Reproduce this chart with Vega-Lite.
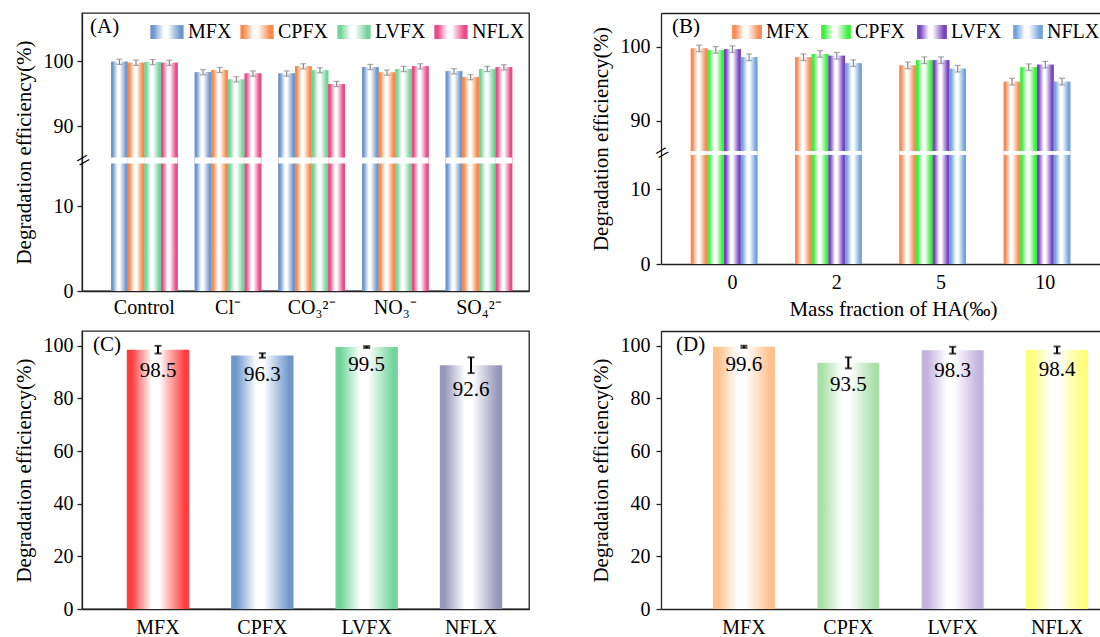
{
 "$schema": "https://vega.github.io/schema/vega-lite/v6.json",
 "background": "#ffffff",
 "padding": {"left": 12, "top": 12, "right": 0, "bottom": 0},
 "config": {
  "font": "Liberation Serif",
  "view": {"stroke": "#222222", "strokeWidth": 1.3},
  "axis": {"labelFont": "Liberation Serif", "labelFontSize": 20, "labelColor": "#000000", "titleFont": "Liberation Serif", "titleFontSize": 21, "titleFontWeight": "normal", "titleColor": "#000000", "domainColor": "#222222", "domainWidth": 1.3, "tickColor": "#222222", "tickWidth": 1.3, "grid": false, "zindex": 1},
  "legend": {"labelFont": "Liberation Serif", "labelFontSize": 20, "labelColor": "#000000", "padding": 0},
  "title": {"font": "Liberation Serif", "fontSize": 21, "fontWeight": "normal", "color": "#000000", "anchor": "start", "frame": "group"}
 },
 "params": [
  {"name": "gA", "value": {
   "MFX": {"id":"gA_MFX","gradient":"linear","x1":0,"y1":0,"x2":1,"y2":0,"stops":[{"offset":0,"color":"#6f97cc"},{"offset":0.1,"color":"#6f97cc"},{"offset":0.4,"color":"#ffffff"},{"offset":0.52,"color":"#ffffff"},{"offset":0.9,"color":"#6f97cc"},{"offset":1,"color":"#6f97cc"}]},
   "CPFX": {"id":"gA_CPFX","gradient":"linear","x1":0,"y1":0,"x2":1,"y2":0,"stops":[{"offset":0,"color":"#f7894a"},{"offset":0.1,"color":"#f7894a"},{"offset":0.4,"color":"#ffffff"},{"offset":0.52,"color":"#ffffff"},{"offset":0.9,"color":"#f7894a"},{"offset":1,"color":"#f7894a"}]},
   "LVFX": {"id":"gA_LVFX","gradient":"linear","x1":0,"y1":0,"x2":1,"y2":0,"stops":[{"offset":0,"color":"#73d39b"},{"offset":0.1,"color":"#73d39b"},{"offset":0.4,"color":"#ffffff"},{"offset":0.52,"color":"#ffffff"},{"offset":0.9,"color":"#73d39b"},{"offset":1,"color":"#73d39b"}]},
   "NFLX": {"id":"gA_NFLX","gradient":"linear","x1":0,"y1":0,"x2":1,"y2":0,"stops":[{"offset":0,"color":"#ea4a86"},{"offset":0.1,"color":"#ea4a86"},{"offset":0.4,"color":"#ffffff"},{"offset":0.52,"color":"#ffffff"},{"offset":0.9,"color":"#ea4a86"},{"offset":1,"color":"#ea4a86"}]}
  }},
  {"name": "gB", "value": {
   "MFX": {"id":"gB_MFX","gradient":"linear","x1":0,"y1":0,"x2":1,"y2":0,"stops":[{"offset":0,"color":"#f68b55"},{"offset":0.1,"color":"#f68b55"},{"offset":0.4,"color":"#ffffff"},{"offset":0.52,"color":"#ffffff"},{"offset":0.9,"color":"#f68b55"},{"offset":1,"color":"#f68b55"}]},
   "CPFX": {"id":"gB_CPFX","gradient":"linear","x1":0,"y1":0,"x2":1,"y2":0,"stops":[{"offset":0,"color":"#3fee3f"},{"offset":0.1,"color":"#3fee3f"},{"offset":0.4,"color":"#ffffff"},{"offset":0.52,"color":"#ffffff"},{"offset":0.9,"color":"#3fee3f"},{"offset":1,"color":"#3fee3f"}]},
   "LVFX": {"id":"gB_LVFX","gradient":"linear","x1":0,"y1":0,"x2":1,"y2":0,"stops":[{"offset":0,"color":"#7643c2"},{"offset":0.1,"color":"#7643c2"},{"offset":0.4,"color":"#ffffff"},{"offset":0.52,"color":"#ffffff"},{"offset":0.9,"color":"#7643c2"},{"offset":1,"color":"#7643c2"}]},
   "NFLX": {"id":"gB_NFLX","gradient":"linear","x1":0,"y1":0,"x2":1,"y2":0,"stops":[{"offset":0,"color":"#72a4dc"},{"offset":0.1,"color":"#72a4dc"},{"offset":0.4,"color":"#ffffff"},{"offset":0.52,"color":"#ffffff"},{"offset":0.9,"color":"#72a4dc"},{"offset":1,"color":"#72a4dc"}]}
  }},
  {"name": "gC", "value": {
   "MFX": {"id":"gC_MFX","gradient":"linear","x1":0,"y1":0,"x2":1,"y2":0,"stops":[{"offset":0,"color":"#ff3d3d"},{"offset":0.08,"color":"#ff3d3d"},{"offset":0.4,"color":"#ffffff"},{"offset":0.52,"color":"#ffffff"},{"offset":0.93,"color":"#ff3d3d"},{"offset":1,"color":"#ff3d3d"}]},
   "CPFX": {"id":"gC_CPFX","gradient":"linear","x1":0,"y1":0,"x2":1,"y2":0,"stops":[{"offset":0,"color":"#6f97cc"},{"offset":0.08,"color":"#6f97cc"},{"offset":0.4,"color":"#ffffff"},{"offset":0.52,"color":"#ffffff"},{"offset":0.93,"color":"#6f97cc"},{"offset":1,"color":"#6f97cc"}]},
   "LVFX": {"id":"gC_LVFX","gradient":"linear","x1":0,"y1":0,"x2":1,"y2":0,"stops":[{"offset":0,"color":"#6fd59a"},{"offset":0.08,"color":"#6fd59a"},{"offset":0.4,"color":"#ffffff"},{"offset":0.52,"color":"#ffffff"},{"offset":0.93,"color":"#6fd59a"},{"offset":1,"color":"#6fd59a"}]},
   "NFLX": {"id":"gC_NFLX","gradient":"linear","x1":0,"y1":0,"x2":1,"y2":0,"stops":[{"offset":0,"color":"#9797ba"},{"offset":0.08,"color":"#9797ba"},{"offset":0.4,"color":"#ffffff"},{"offset":0.52,"color":"#ffffff"},{"offset":0.93,"color":"#9797ba"},{"offset":1,"color":"#9797ba"}]}
  }},
  {"name": "gD", "value": {
   "MFX": {"id":"gD_MFX","gradient":"linear","x1":0,"y1":0,"x2":1,"y2":0,"stops":[{"offset":0,"color":"#ffc08c"},{"offset":0.08,"color":"#ffc08c"},{"offset":0.4,"color":"#ffffff"},{"offset":0.52,"color":"#ffffff"},{"offset":0.93,"color":"#ffc08c"},{"offset":1,"color":"#ffc08c"}]},
   "CPFX": {"id":"gD_CPFX","gradient":"linear","x1":0,"y1":0,"x2":1,"y2":0,"stops":[{"offset":0,"color":"#a8e0a8"},{"offset":0.08,"color":"#a8e0a8"},{"offset":0.4,"color":"#ffffff"},{"offset":0.52,"color":"#ffffff"},{"offset":0.93,"color":"#a8e0a8"},{"offset":1,"color":"#a8e0a8"}]},
   "LVFX": {"id":"gD_LVFX","gradient":"linear","x1":0,"y1":0,"x2":1,"y2":0,"stops":[{"offset":0,"color":"#c2b0de"},{"offset":0.08,"color":"#c2b0de"},{"offset":0.4,"color":"#ffffff"},{"offset":0.52,"color":"#ffffff"},{"offset":0.93,"color":"#c2b0de"},{"offset":1,"color":"#c2b0de"}]},
   "NFLX": {"id":"gD_NFLX","gradient":"linear","x1":0,"y1":0,"x2":1,"y2":0,"stops":[{"offset":0,"color":"#ffff78"},{"offset":0.08,"color":"#ffff78"},{"offset":0.4,"color":"#ffffff"},{"offset":0.52,"color":"#ffffff"},{"offset":0.93,"color":"#ffff78"},{"offset":1,"color":"#ffff78"}]}
  }}
 ],
 "datasets": {
  "A": [
   {"g": "Control", "s": "MFX", "v": 99.9, "lo": 99.5, "hi": 100.3},
   {"g": "Control", "s": "CPFX", "v": 99.75, "lo": 99.35, "hi": 100.15},
   {"g": "Control", "s": "LVFX", "v": 99.85, "lo": 99.45, "hi": 100.25},
   {"g": "Control", "s": "NFLX", "v": 99.75, "lo": 99.35, "hi": 100.15},
   {"g": "Cl⁻", "s": "MFX", "v": 98.3, "lo": 97.9, "hi": 98.7},
   {"g": "Cl⁻", "s": "CPFX", "v": 98.65, "lo": 98.25, "hi": 99.05},
   {"g": "Cl⁻", "s": "LVFX", "v": 97.2, "lo": 96.8, "hi": 97.6},
   {"g": "Cl⁻", "s": "NFLX", "v": 98.1, "lo": 97.7, "hi": 98.5},
   {"g": "CO₃²⁻", "s": "MFX", "v": 98.1, "lo": 97.7, "hi": 98.5},
   {"g": "CO₃²⁻", "s": "CPFX", "v": 99.2, "lo": 98.8, "hi": 99.6},
   {"g": "CO₃²⁻", "s": "LVFX", "v": 98.6, "lo": 98.2, "hi": 99.0},
   {"g": "CO₃²⁻", "s": "NFLX", "v": 96.5, "lo": 96.1, "hi": 96.9},
   {"g": "NO₃⁻", "s": "MFX", "v": 99.1, "lo": 98.7, "hi": 99.5},
   {"g": "NO₃⁻", "s": "CPFX", "v": 98.25, "lo": 97.85, "hi": 98.65},
   {"g": "NO₃⁻", "s": "LVFX", "v": 98.8, "lo": 98.4, "hi": 99.2},
   {"g": "NO₃⁻", "s": "NFLX", "v": 99.2, "lo": 98.8, "hi": 99.6},
   {"g": "SO₄²⁻", "s": "MFX", "v": 98.45, "lo": 98.05, "hi": 98.85},
   {"g": "SO₄²⁻", "s": "CPFX", "v": 97.55, "lo": 97.15, "hi": 97.95},
   {"g": "SO₄²⁻", "s": "LVFX", "v": 98.8, "lo": 98.4, "hi": 99.2},
   {"g": "SO₄²⁻", "s": "NFLX", "v": 99.05, "lo": 98.65, "hi": 99.45}
  ],
  "B": [
   {"g": "0", "s": "MFX", "v": 99.8, "lo": 99.35, "hi": 100.25},
   {"g": "0", "s": "CPFX", "v": 99.6, "lo": 99.15, "hi": 100.05},
   {"g": "0", "s": "LVFX", "v": 99.7, "lo": 99.25, "hi": 100.15},
   {"g": "0", "s": "NFLX", "v": 98.6, "lo": 98.15, "hi": 99.05},
   {"g": "2", "s": "MFX", "v": 98.6, "lo": 98.15, "hi": 99.05},
   {"g": "2", "s": "CPFX", "v": 99.05, "lo": 98.6, "hi": 99.5},
   {"g": "2", "s": "LVFX", "v": 98.8, "lo": 98.35, "hi": 99.25},
   {"g": "2", "s": "NFLX", "v": 97.8, "lo": 97.35, "hi": 98.25},
   {"g": "5", "s": "MFX", "v": 97.5, "lo": 97.05, "hi": 97.95},
   {"g": "5", "s": "CPFX", "v": 98.2, "lo": 97.75, "hi": 98.65},
   {"g": "5", "s": "LVFX", "v": 98.2, "lo": 97.75, "hi": 98.65},
   {"g": "5", "s": "NFLX", "v": 97.05, "lo": 96.6, "hi": 97.5},
   {"g": "10", "s": "MFX", "v": 95.3, "lo": 94.85, "hi": 95.75},
   {"g": "10", "s": "CPFX", "v": 97.25, "lo": 96.8, "hi": 97.7},
   {"g": "10", "s": "LVFX", "v": 97.6, "lo": 97.15, "hi": 98.05},
   {"g": "10", "s": "NFLX", "v": 95.3, "lo": 94.85, "hi": 95.75}
  ],
  "C": [
   {"s": "MFX", "v": 98.5, "lo": 97.05, "hi": 99.95},
   {"s": "CPFX", "v": 96.3, "lo": 95.45, "hi": 97.15},
   {"s": "LVFX", "v": 99.5, "lo": 99.15, "hi": 99.85},
   {"s": "NFLX", "v": 92.6, "lo": 89.6, "hi": 95.6}
  ],
  "D": [
   {"s": "MFX", "v": 99.6, "lo": 99.2, "hi": 100.0},
   {"s": "CPFX", "v": 93.5, "lo": 91.4, "hi": 95.6},
   {"s": "LVFX", "v": 98.3, "lo": 97.0, "hi": 99.6},
   {"s": "NFLX", "v": 98.4, "lo": 97.1, "hi": 99.7}
  ]
 },
 "spacing": 11,
 "resolve": {"scale": {"color": "independent"}, "legend": {"color": "independent"}},
 "vconcat": [
  {
   "spacing": 60,
   "resolve": {"scale": {"color": "independent"}, "legend": {"color": "independent"}},
   "hconcat": [
    {
     "width": 447, "height": 278,
     "data": {"name": "A"},
     "title": {"text": "(A)", "offset": -22, "dx": 8, "dy": 19, "baseline": "alphabetic"},
     "resolve": {"axis": {"y": "independent"}},
     "encoding": {
      "x": {"field": "g", "type": "nominal", "sort": ["Control", "Cl⁻", "CO₃²⁻", "NO₃⁻", "SO₄²⁻"], "scale": {"paddingInner": 0.204, "paddingOuter": 0.274, "align": 0.634}, "axis": {"title": null, "labelAngle": 0, "ticks": false, "labelPadding": 6}},
      "xOffset": {"field": "s", "type": "nominal", "sort": ["MFX", "CPFX", "LVFX", "NFLX"], "scale": {"paddingInner": 0, "paddingOuter": 0}}
     },
     "layer": [
      {
       "mark": {"type": "bar", "strokeWidth": 0},
       "encoding": {
        "y": {"field": "v", "type": "quantitative", "scale": {"domain": [0, 15, 85.2, 107.4], "range": [278, 150.5, 144.5, 0], "nice": false, "zero": false},
         "axis": {"title": "Degradation efficiency(%)", "values": [0, 10, 90, 100], "tickSize": 5, "labelPadding": 4, "titlePadding": 9, "labelOverlap": false, "labelFlush": false}},
        "color": {"field": "s", "type": "nominal", "sort": ["MFX", "CPFX", "LVFX", "NFLX"], "scale": {"domain": ["MFX", "CPFX", "LVFX", "NFLX"], "range": ["url(#gA_MFX)", "url(#gA_CPFX)", "url(#gA_LVFX)", "url(#gA_NFLX)"]},
         "legend": {"title": null, "orient": "none", "legendX": 68, "legendY": 2, "direction": "horizontal", "symbolType": "M-1,-0.42H1V0.42H-1Z", "symbolSize": 1109, "symbolStrokeWidth": 0, "symbolOpacity": 1, "labelOffset": 4, "columnPadding": 8}}
       }
      },
      {
       "mark": {"type": "bar"},
       "encoding": {
        "y": {"field": "v", "type": "quantitative", "scale": {"domain": [0, 15, 85.2, 107.4], "range": [278, 150.5, 144.5, 0], "nice": false, "zero": false}, "axis": null},
        "fill": {"value": {"expr": "gA[datum.s]"}}
       }
      },
      {
       "mark": {"type": "bar", "color": "#ffffff"},
       "encoding": {
        "y": {"datum": 15, "type": "quantitative", "scale": {"domain": [0, 15, 85.2, 107.4], "range": [278, 150.5, 144.5, 0], "nice": false, "zero": false},
         "axis": {"orient": "left", "values": [50], "labelExpr": "'='", "labelAngle": -30, "labelFontSize": 24, "labelAlign": "center", "labelBaseline": "middle", "ticks": false, "domain": false, "title": null, "labelPadding": -1, "labelOverlap": false, "labelFlush": false, "zindex": 2}},
        "y2": {"datum": 85.2}
       }
      },
      {
       "mark": {"type": "rule", "color": "#888888", "strokeWidth": 1.2},
       "encoding": {
        "y": {"field": "lo", "type": "quantitative", "scale": {"domain": [0, 15, 85.2, 107.4], "range": [278, 150.5, 144.5, 0], "nice": false, "zero": false}, "axis": null},
        "y2": {"field": "hi"}
       }
      },
      {
       "mark": {"type": "tick", "color": "#888888", "thickness": 1.2, "size": 6},
       "encoding": {"y": {"field": "lo", "type": "quantitative", "scale": {"domain": [0, 15, 85.2, 107.4], "range": [278, 150.5, 144.5, 0], "nice": false, "zero": false}, "axis": null}}
      },
      {
       "mark": {"type": "tick", "color": "#888888", "thickness": 1.2, "size": 6},
       "encoding": {"y": {"field": "hi", "type": "quantitative", "scale": {"domain": [0, 15, 85.2, 107.4], "range": [278, 150.5, 144.5, 0], "nice": false, "zero": false}, "axis": null}}
      }
     ]
    },
    {
     "width": 439, "height": 251,
     "view": {"stroke": null},
     "data": {"name": "B"},
     "title": {"text": "(B)", "offset": -22, "dx": 11, "dy": 19, "baseline": "alphabetic"},
     "resolve": {"axis": {"x": "independent", "y": "independent"}},
     "layer": [
      {
       "mark": {"type": "bar", "strokeWidth": 0},
       "encoding": {
        "x": {"field": "g", "type": "nominal", "sort": ["0", "2", "5", "10"], "scale": {"paddingInner": 0.203, "paddingOuter": 0.206, "align": 0.694}, "axis": {"title": "Mass fraction of HA(‰)", "titleX": 232, "labelAngle": 0, "ticks": false, "labelPadding": 8, "titlePadding": 6}},
        "xOffset": {"field": "s", "type": "nominal", "sort": ["MFX", "CPFX", "LVFX", "NFLX"], "scale": {"paddingInner": 0, "paddingOuter": 0}},
        "y": {"field": "v", "type": "quantitative", "scale": {"domain": [0, 14.6, 85.9, 104.6], "range": [251, 141.9, 138, 0], "nice": false, "zero": false},
         "axis": {"title": "Degradation efficiency(%)", "values": [0, 10, 90, 100], "tickSize": 5, "labelPadding": 6, "titlePadding": 9, "labelOverlap": false, "labelFlush": false}},
        "color": {"field": "s", "type": "nominal", "sort": ["MFX", "CPFX", "LVFX", "NFLX"], "scale": {"domain": ["MFX", "CPFX", "LVFX", "NFLX"], "range": ["url(#gB_MFX)", "url(#gB_CPFX)", "url(#gB_LVFX)", "url(#gB_NFLX)"]},
         "legend": {"title": null, "orient": "none", "legendX": 71, "legendY": 4, "direction": "horizontal", "symbolType": "M-1,-0.47H1V0.47H-1Z", "symbolSize": 888, "symbolStrokeWidth": 0, "symbolOpacity": 1, "labelOffset": 4, "columnPadding": 11}}
       }
      },
      {
       "mark": {"type": "bar"},
       "encoding": {
        "x": {"field": "g", "type": "nominal", "sort": ["0", "2", "5", "10"], "scale": {"paddingInner": 0.203, "paddingOuter": 0.206, "align": 0.694}, "axis": {"orient": "top", "labels": false, "ticks": false, "title": null, "domain": true}},
        "xOffset": {"field": "s", "type": "nominal", "sort": ["MFX", "CPFX", "LVFX", "NFLX"], "scale": {"paddingInner": 0, "paddingOuter": 0}},
        "y": {"field": "v", "type": "quantitative", "scale": {"domain": [0, 14.6, 85.9, 104.6], "range": [251, 141.9, 138, 0], "nice": false, "zero": false}, "axis": null},
        "fill": {"value": {"expr": "gB[datum.s]"}}
       }
      },
      {
       "mark": {"type": "bar", "color": "#ffffff"},
       "encoding": {
        "x": {"field": "g", "type": "nominal", "sort": ["0", "2", "5", "10"], "scale": {"paddingInner": 0.203, "paddingOuter": 0.206, "align": 0.694}, "axis": null},
        "xOffset": {"field": "s", "type": "nominal", "sort": ["MFX", "CPFX", "LVFX", "NFLX"], "scale": {"paddingInner": 0, "paddingOuter": 0}},
        "y": {"datum": 14.6, "type": "quantitative", "scale": {"domain": [0, 14.6, 85.9, 104.6], "range": [251, 141.9, 138, 0], "nice": false, "zero": false},
         "axis": {"orient": "left", "values": [50], "labelExpr": "'='", "labelAngle": -30, "labelFontSize": 24, "labelAlign": "center", "labelBaseline": "middle", "ticks": false, "domain": false, "title": null, "labelPadding": -1, "labelOverlap": false, "labelFlush": false, "zindex": 2}},
        "y2": {"datum": 85.9}
       }
      },
      {
       "mark": {"type": "rule", "color": "#888888", "strokeWidth": 1.2},
       "encoding": {
        "x": {"field": "g", "type": "nominal", "sort": ["0", "2", "5", "10"], "scale": {"paddingInner": 0.203, "paddingOuter": 0.206, "align": 0.694}, "axis": null},
        "xOffset": {"field": "s", "type": "nominal", "sort": ["MFX", "CPFX", "LVFX", "NFLX"], "scale": {"paddingInner": 0, "paddingOuter": 0}},
        "y": {"field": "lo", "type": "quantitative", "scale": {"domain": [0, 14.6, 85.9, 104.6], "range": [251, 141.9, 138, 0], "nice": false, "zero": false}, "axis": null},
        "y2": {"field": "hi"}
       }
      },
      {
       "mark": {"type": "tick", "color": "#888888", "thickness": 1.2, "size": 6},
       "encoding": {
        "x": {"field": "g", "type": "nominal", "sort": ["0", "2", "5", "10"], "scale": {"paddingInner": 0.203, "paddingOuter": 0.206, "align": 0.694}, "axis": null},
        "xOffset": {"field": "s", "type": "nominal", "sort": ["MFX", "CPFX", "LVFX", "NFLX"], "scale": {"paddingInner": 0, "paddingOuter": 0}},
        "y": {"field": "lo", "type": "quantitative", "scale": {"domain": [0, 14.6, 85.9, 104.6], "range": [251, 141.9, 138, 0], "nice": false, "zero": false}, "axis": null}
       }
      },
      {
       "mark": {"type": "tick", "color": "#888888", "thickness": 1.2, "size": 6},
       "encoding": {
        "x": {"field": "g", "type": "nominal", "sort": ["0", "2", "5", "10"], "scale": {"paddingInner": 0.203, "paddingOuter": 0.206, "align": 0.694}, "axis": null},
        "xOffset": {"field": "s", "type": "nominal", "sort": ["MFX", "CPFX", "LVFX", "NFLX"], "scale": {"paddingInner": 0, "paddingOuter": 0}},
        "y": {"field": "hi", "type": "quantitative", "scale": {"domain": [0, 14.6, 85.9, 104.6], "range": [251, 141.9, 138, 0], "nice": false, "zero": false}, "axis": null}
       }
      }
     ]
    }
   ]
  },
  {
   "spacing": 60,
   "hconcat": [
    {
     "width": 447, "height": 278,
     "data": {"name": "C"},
     "title": {"text": "(C)", "offset": -22, "dx": 11, "dy": 19, "baseline": "alphabetic"},
     "resolve": {"axis": {"y": "independent"}},
     "encoding": {
      "x": {"field": "s", "type": "nominal", "sort": ["MFX", "CPFX", "LVFX", "NFLX"], "scale": {"paddingInner": 0.402, "paddingOuter": 0.343, "align": 0.626}, "axis": {"title": null, "labelAngle": 0, "ticks": false, "labelPadding": 8}}
     },
     "layer": [
      {
       "mark": {"type": "bar"},
       "encoding": {
        "y": {"field": "v", "type": "quantitative", "scale": {"domain": [0, 105.6], "nice": false, "zero": true},
         "axis": {"title": "Degradation efficiency(%)", "values": [0, 20, 40, 60, 80, 100], "tickSize": 5, "labelPadding": 4, "titlePadding": 9, "labelFlush": false}},
        "fill": {"value": {"expr": "gC[datum.s]"}}
       }
      },
      {
       "mark": {"type": "rule", "color": "#000000", "strokeWidth": 2},
       "encoding": {"y": {"field": "lo", "type": "quantitative", "scale": {"domain": [0, 105.6], "nice": false, "zero": true}, "axis": null}, "y2": {"field": "hi"}}
      },
      {
       "mark": {"type": "tick", "color": "#000000", "thickness": 2, "size": 7},
       "encoding": {"y": {"field": "lo", "type": "quantitative", "scale": {"domain": [0, 105.6], "nice": false, "zero": true}, "axis": null}}
      },
      {
       "mark": {"type": "tick", "color": "#000000", "thickness": 2, "size": 7},
       "encoding": {"y": {"field": "hi", "type": "quantitative", "scale": {"domain": [0, 105.6], "nice": false, "zero": true}, "axis": null}}
      },
      {
       "mark": {"type": "text", "baseline": "alphabetic", "dy": 23, "fontSize": 21, "font": "Liberation Serif", "color": "#000000"},
       "encoding": {
        "y": {"field": "lo", "type": "quantitative", "scale": {"domain": [0, 105.6], "nice": false, "zero": true}, "axis": null},
        "text": {"field": "v", "type": "quantitative", "format": ".1f"}
       }
      }
     ]
    },
    {
     "width": 439, "height": 278,
     "view": {"stroke": null},
     "data": {"name": "D"},
     "title": {"text": "(D)", "offset": -22, "dx": 15, "dy": 19, "baseline": "alphabetic"},
     "resolve": {"axis": {"x": "independent", "y": "independent"}},
     "layer": [
      {
       "mark": {"type": "bar"},
       "encoding": {
        "x": {"field": "s", "type": "nominal", "sort": ["MFX", "CPFX", "LVFX", "NFLX"], "scale": {"paddingInner": 0.406, "paddingOuter": 0.306, "align": 0.813}, "axis": {"title": null, "labelAngle": 0, "ticks": false, "labelPadding": 8}},
        "y": {"field": "v", "type": "quantitative", "scale": {"domain": [0, 105.6], "nice": false, "zero": true},
         "axis": {"title": "Degradation efficiency(%)", "values": [0, 20, 40, 60, 80, 100], "tickSize": 5, "labelPadding": 6, "titlePadding": 9, "labelFlush": false}},
        "fill": {"value": {"expr": "gD[datum.s]"}}
       }
      },
      {
       "mark": {"type": "rule", "color": "#000000", "strokeWidth": 2},
       "encoding": {
        "x": {"field": "s", "type": "nominal", "sort": ["MFX", "CPFX", "LVFX", "NFLX"], "scale": {"paddingInner": 0.406, "paddingOuter": 0.306, "align": 0.813}, "axis": {"orient": "top", "labels": false, "ticks": false, "title": null, "domain": true}},
        "y": {"field": "lo", "type": "quantitative", "scale": {"domain": [0, 105.6], "nice": false, "zero": true}, "axis": null}, "y2": {"field": "hi"}}
      },
      {
       "mark": {"type": "tick", "color": "#000000", "thickness": 2, "size": 7},
       "encoding": {
        "x": {"field": "s", "type": "nominal", "sort": ["MFX", "CPFX", "LVFX", "NFLX"], "scale": {"paddingInner": 0.406, "paddingOuter": 0.306, "align": 0.813}, "axis": null},
        "y": {"field": "lo", "type": "quantitative", "scale": {"domain": [0, 105.6], "nice": false, "zero": true}, "axis": null}}
      },
      {
       "mark": {"type": "tick", "color": "#000000", "thickness": 2, "size": 7},
       "encoding": {
        "x": {"field": "s", "type": "nominal", "sort": ["MFX", "CPFX", "LVFX", "NFLX"], "scale": {"paddingInner": 0.406, "paddingOuter": 0.306, "align": 0.813}, "axis": null},
        "y": {"field": "hi", "type": "quantitative", "scale": {"domain": [0, 105.6], "nice": false, "zero": true}, "axis": null}}
      },
      {
       "mark": {"type": "text", "baseline": "alphabetic", "dy": 23, "fontSize": 21, "font": "Liberation Serif", "color": "#000000"},
       "encoding": {
        "x": {"field": "s", "type": "nominal", "sort": ["MFX", "CPFX", "LVFX", "NFLX"], "scale": {"paddingInner": 0.406, "paddingOuter": 0.306, "align": 0.813}, "axis": null},
        "y": {"field": "lo", "type": "quantitative", "scale": {"domain": [0, 105.6], "nice": false, "zero": true}, "axis": null},
        "text": {"field": "v", "type": "quantitative", "format": ".1f"}
       }
      }
     ]
    }
   ]
  }
 ]
}
